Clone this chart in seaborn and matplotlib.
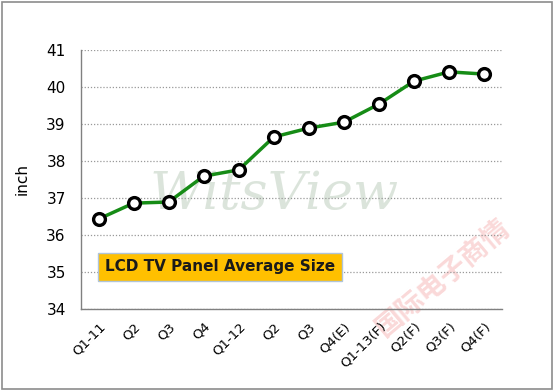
import numpy as np
import pandas as pd
import matplotlib
matplotlib.use('Agg')
import matplotlib.pyplot as plt
from matplotlib.patches import Rectangle
import seaborn as sns

# quarters and average panel size (inch)
quarters = ['Q1-11', 'Q2', 'Q3', 'Q4', 'Q1-12', 'Q2', 'Q3', 'Q4(E)',
            'Q1-13(F)', 'Q2(F)', 'Q3(F)', 'Q4(F)']
sizes = [36.43, 36.86, 36.89, 37.59, 37.76, 38.65, 38.89, 39.05,
         39.54, 40.16, 40.41, 40.35]
y_ticks = [34, 35, 36, 37, 38, 39, 40, 41]

df = pd.DataFrame({'pos': np.arange(len(quarters)), 'size': sizes})

sns.set_style('white')
plt.rcParams['font.family'] = ['DejaVu Sans', 'Noto Sans CJK SC']

fig = plt.figure(figsize=(5.55, 3.91), dpi=100)
ax = fig.add_axes([0.146, 0.21, 0.758, 0.662])

# watermarks
ax.text(0.46, 0.44, 'WitsView', transform=ax.transAxes, ha='center', va='center',
        fontsize=38, family='DejaVu Serif', style='italic', color='#8aa88a',
        alpha=0.3, zorder=0)
ax.text(0.86, 0.12, '国际电子商情', transform=ax.transAxes, ha='center', va='center',
        fontsize=20, family=['Noto Sans CJK SC'], fontweight='bold', color='#f08080',
        alpha=0.3, rotation=40, zorder=0)

sns.lineplot(data=df, x='pos', y='size', ax=ax, color='#168c16', linewidth=2.5,
             marker='o', markersize=8.5, markerfacecolor='white',
             markeredgecolor='black', markeredgewidth=2.4, zorder=3)

ax.set_xlim(-0.5, len(quarters) - 0.5)
ax.set_ylim(34, 41)
ax.set_yticks(y_ticks)
ax.set_yticklabels([str(v) for v in y_ticks], fontsize=11, color='black')
ax.set_xticks(np.arange(len(quarters) + 1) - 0.5)
ax.set_xticklabels([])
ax.set_xticks(np.arange(len(quarters)), minor=True)
ax.set_xticklabels(quarters, minor=True, rotation=45, ha='right',
                   rotation_mode='anchor', fontsize=9.5, color='black')
ax.tick_params(axis='x', which='minor', length=0, pad=8)
ax.tick_params(axis='x', which='major', length=5, color='#808080', direction='out')
ax.tick_params(axis='y', length=5, color='#808080', direction='out', pad=6)
ax.set_xlabel('')
ax.set_ylabel('inch', fontsize=11, labelpad=12, color='black')

ax.grid(axis='y', linestyle=(0, (1, 1.5)), color='#999999', linewidth=0.9)
ax.set_axisbelow(True)
for side in ['top', 'right']:
    ax.spines[side].set_visible(False)
for side in ['left', 'bottom']:
    ax.spines[side].set_color('#808080')
    ax.spines[side].set_linewidth(1)

ax.text(0.33, 0.162, 'LCD TV Panel Average Size', transform=ax.transAxes,
        ha='center', va='center', fontsize=11, fontweight='bold', color='#1a1a1a',
        bbox=dict(boxstyle='square,pad=0.45', facecolor='#ffc000',
                  edgecolor='#b0c4d8', linewidth=1), zorder=4)

fig.patches.append(Rectangle((0.004, 0.006), 0.99, 0.99, transform=fig.transFigure,
                             fill=False, edgecolor='#8c8c8c', linewidth=1.2))

fig.savefig('out.png', dpi=100)
